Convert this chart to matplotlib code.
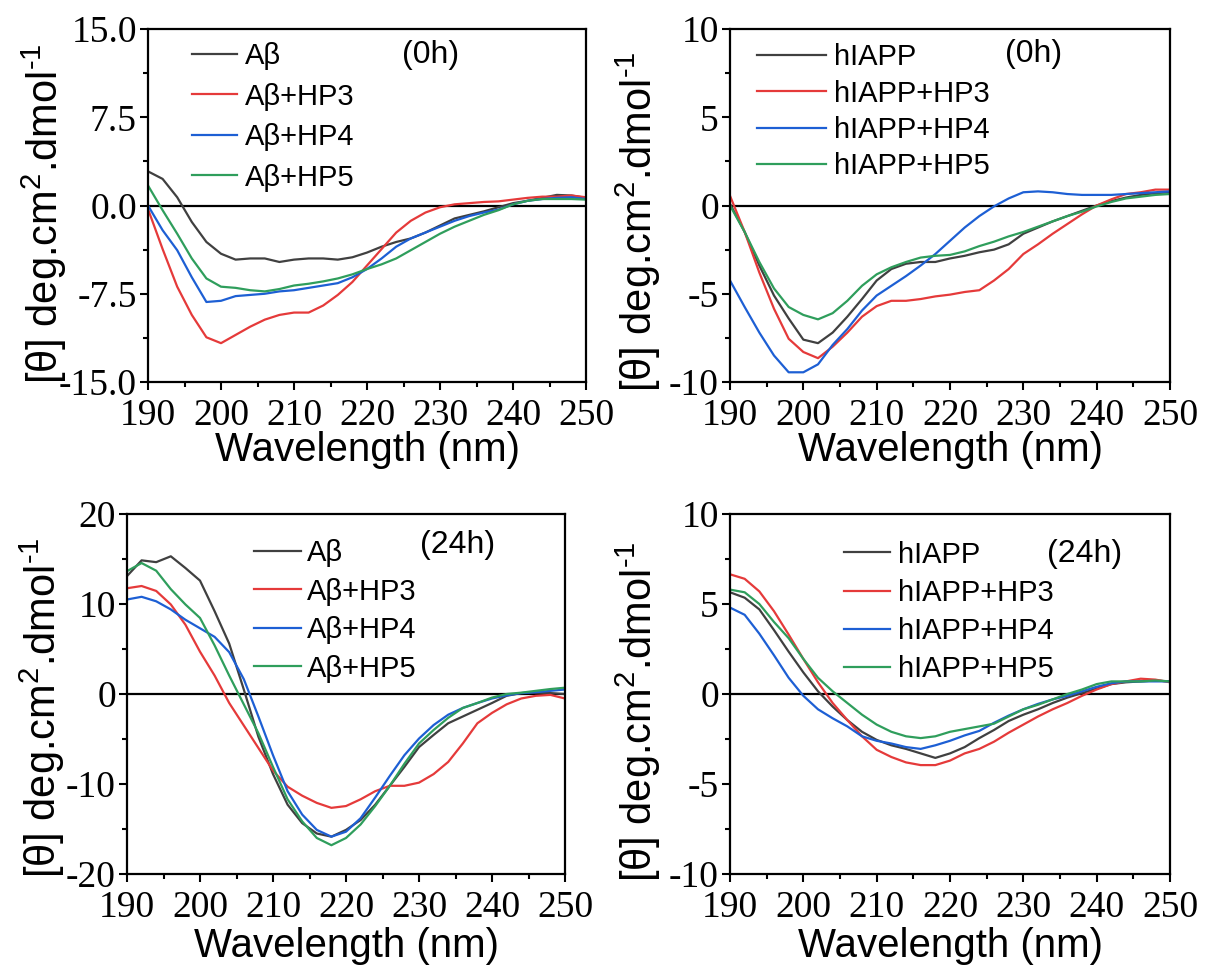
import numpy as np
import matplotlib.pyplot as plt
from matplotlib.ticker import MultipleLocator, FormatStrFormatter

plt.rcParams['font.family'] = 'Liberation Sans'
plt.rcParams['mathtext.fontset'] = 'custom'
plt.rcParams['mathtext.rm'] = 'Liberation Sans'
plt.rcParams['mathtext.it'] = 'Liberation Sans:italic'

# wavelength grid (nm)
wl = list(range(190, 251, 2))

# --- A-beta, 0 h ---
ab0_ab  = [2.9, 2.26, 0.7, -1.4, -3.1, -4.1, -4.6, -4.5, -4.5, -4.8, -4.6, -4.5, -4.5, -4.6, -4.4, -4.0,
           -3.5, -3.1, -2.8, -2.3, -1.7, -1.1, -0.8, -0.5, -0.15, 0.2, 0.4, 0.65, 0.9, 0.85, 0.65]
ab0_hp3 = [-0.3, -3.7, -6.9, -9.3, -11.2, -11.7, -11.0, -10.3, -9.7, -9.3, -9.1, -9.1, -8.5, -7.6, -6.5, -5.1,
           -3.7, -2.3, -1.3, -0.6, -0.15, 0.1, 0.2, 0.3, 0.35, 0.5, 0.65, 0.75, 0.75, 0.85, 0.7]
ab0_hp4 = [0.0, -2.1, -3.8, -6.1, -8.2, -8.1, -7.7, -7.6, -7.5, -7.3, -7.2, -7.0, -6.8, -6.6, -6.1, -5.4,
           -4.5, -3.5, -2.8, -2.3, -1.8, -1.3, -0.9, -0.6, -0.35, 0.1, 0.4, 0.55, 0.65, 0.7, 0.55]
ab0_hp5 = [1.7, -0.4, -2.4, -4.5, -6.2, -6.9, -7.0, -7.2, -7.3, -7.1, -6.8, -6.65, -6.45, -6.2, -5.85, -5.4,
           -5.0, -4.5, -3.8, -3.1, -2.4, -1.8, -1.3, -0.8, -0.4, 0.1, 0.4, 0.55, 0.55, 0.55, 0.5]

# --- hIAPP, 0 h ---
ia0_ia  = [0.1, -1.5, -3.4, -5.1, -6.4, -7.6, -7.8, -7.2, -6.3, -5.3, -4.25, -3.6, -3.3, -3.2, -3.2, -3.0,
           -2.85, -2.65, -2.5, -2.2, -1.6, -1.25, -0.9, -0.6, -0.3, 0.0, 0.25, 0.45, 0.6, 0.7, 0.75]
ia0_hp3 = [0.55, -1.5, -3.8, -5.85, -7.55, -8.3, -8.65, -8.0, -7.2, -6.3, -5.7, -5.4, -5.4, -5.3, -5.15, -5.05,
           -4.9, -4.8, -4.25, -3.6, -2.75, -2.2, -1.6, -1.05, -0.5, 0.0, 0.35, 0.65, 0.75, 0.9, 0.9]
ia0_hp4 = [-4.25, -5.75, -7.2, -8.5, -9.45, -9.45, -9.0, -7.9, -7.0, -5.95, -5.1, -4.55, -4.0, -3.4, -2.75, -2.0,
           -1.25, -0.6, -0.05, 0.4, 0.75, 0.8, 0.75, 0.65, 0.6, 0.6, 0.6, 0.65, 0.7, 0.75, 0.8]
ia0_hp5 = [0.0, -1.5, -3.2, -4.7, -5.75, -6.2, -6.45, -6.1, -5.4, -4.55, -3.9, -3.5, -3.2, -2.95, -2.85, -2.8,
           -2.6, -2.3, -2.05, -1.75, -1.5, -1.2, -0.9, -0.6, -0.35, -0.05, 0.2, 0.4, 0.5, 0.6, 0.65]

# --- A-beta, 24 h ---
ab24_ab  = [13.1, 14.85, 14.65, 15.3, 14.0, 12.6, 9.2, 5.6, 0.5, -4.75, -8.9, -12.3, -14.35, -15.5, -15.85, -15.1,
            -14.0, -12.3, -10.2, -8.1, -5.9, -4.55, -3.25, -2.5, -1.75, -1.0, -0.2, 0.1, 0.15, 0.1, 0.0]
ab24_hp3 = [11.75, 12.0, 11.45, 9.95, 7.7, 4.7, 2.05, -1.0, -3.5, -6.0, -8.5, -10.3, -11.3, -12.1, -12.65, -12.45,
            -11.7, -10.8, -10.2, -10.2, -9.85, -8.9, -7.55, -5.5, -3.25, -2.1, -1.15, -0.5, -0.2, -0.1, -0.5]
ab24_hp4 = [10.5, 10.8, 10.3, 9.4, 8.25, 7.3, 6.35, 4.65, 1.65, -2.5, -6.8, -10.8, -13.4, -15.1, -15.85, -15.3,
            -13.8, -11.5, -9.1, -6.8, -4.95, -3.45, -2.3, -1.55, -1.0, -0.5, -0.15, 0.1, 0.2, 0.35, 0.5]
ab24_hp5 = [13.65, 14.55, 13.7, 11.65, 9.95, 8.45, 5.4, 2.05, -1.15, -4.35, -8.1, -11.7, -14.15, -16.0, -16.8, -16.0,
            -14.5, -12.45, -10.2, -7.75, -5.5, -4.0, -2.65, -1.55, -1.0, -0.4, 0.0, 0.15, 0.35, 0.55, 0.7]

# --- hIAPP, 24 h ---
ia24_ia  = [5.65, 5.35, 4.7, 3.55, 2.35, 1.2, 0.15, -0.7, -1.45, -2.1, -2.55, -2.85, -3.05, -3.3, -3.55, -3.3,
            -2.95, -2.45, -2.0, -1.5, -1.15, -0.85, -0.5, -0.2, 0.05, 0.3, 0.55, 0.65, 0.7, 0.75, 0.7]
ia24_hp3 = [6.65, 6.4, 5.7, 4.6, 3.3, 1.95, 0.65, -0.5, -1.45, -2.35, -3.1, -3.5, -3.8, -3.95, -3.95, -3.7,
            -3.3, -3.05, -2.65, -2.15, -1.7, -1.25, -0.85, -0.5, -0.1, 0.25, 0.55, 0.7, 0.85, 0.8, 0.65]
ia24_hp4 = [4.8, 4.4, 3.35, 2.15, 0.9, -0.1, -0.85, -1.35, -1.8, -2.35, -2.6, -2.75, -2.95, -3.05, -2.85, -2.6,
            -2.3, -2.05, -1.6, -1.2, -0.85, -0.55, -0.3, -0.1, 0.15, 0.4, 0.6, 0.7, 0.7, 0.7, 0.7]
ia24_hp5 = [5.8, 5.65, 5.0, 4.0, 3.1, 1.95, 0.9, 0.15, -0.5, -1.15, -1.7, -2.1, -2.35, -2.45, -2.35, -2.1,
            -1.95, -1.8, -1.65, -1.25, -0.85, -0.6, -0.3, 0.0, 0.25, 0.55, 0.7, 0.7, 0.7, 0.75, 0.7]

ab_labels = ['A\u03b2', 'A\u03b2+HP3', 'A\u03b2+HP4', 'A\u03b2+HP5']
ia_labels = ['hIAPP', 'hIAPP+HP3', 'hIAPP+HP4', 'hIAPP+HP5']
colors = ['#404040', '#e53a3a', '#1d5fd4', '#2f9e5c']

W, H = 1208, 972
fig = plt.figure(figsize=(W / 100, H / 100), dpi=100)

def px_axes(x0, y0, x1, y1):
    return fig.add_axes([x0 / W, 1 - y1 / H, (x1 - x0) / W, (y1 - y0) / H])

panels = [
    dict(box=(148, 29, 586, 382), ys=[ab0_ab, ab0_hp3, ab0_hp4, ab0_hp5], labels=ab_labels,
         ylim=(-15, 15), major=7.5, minor=3.75, fmt='%.1f', tag='(0h)', tagpos=(0.645, 0.925),
         leg=dict(anchor=(0.10, 0.963), hl=1.55, tp=0.28, ls=0.43), ylab=(44, 214), xlab=450),
    dict(box=(730, 29, 1170, 382), ys=[ia0_ia, ia0_hp3, ia0_hp4, ia0_hp5], labels=ia_labels,
         ylim=(-10, 10), major=5, minor=2.5, fmt='%d', tag='(0h)', tagpos=(0.69, 0.93),
         leg=dict(anchor=(0.062, 0.960), hl=2.36, tp=0.28, ls=0.29), ylab=(638, 222), xlab=450),
    dict(box=(127, 514, 565, 874), ys=[ab24_ab, ab24_hp3, ab24_hp4, ab24_hp5], labels=ab_labels,
         ylim=(-20, 20), major=10, minor=5, fmt='%d', tag='(24h)', tagpos=(0.755, 0.913),
         leg=dict(anchor=(0.29, 0.930), hl=1.6, tp=0.2, ls=0.36), ylab=(42, 708), xlab=946),
    dict(box=(730, 514, 1170, 874), ys=[ia24_ia, ia24_hp3, ia24_hp4, ia24_hp5], labels=ia_labels,
         ylim=(-10, 10), major=5, minor=2.5, fmt='%d', tag='(24h)', tagpos=(0.805, 0.89),
         leg=dict(anchor=(0.26, 0.926), hl=1.57, tp=0.28, ls=0.35), ylab=(638, 712), xlab=946),
]

for p in panels:
    ax = px_axes(*p['box'])
    for y, lab, c in zip(p['ys'], p['labels'], colors):
        ax.plot(wl, y, color=c, lw=1.6, label=lab)
    ax.axhline(0, color='black', lw=1.6, zorder=1)

    ax.set_xlim(190, 250)
    ax.set_ylim(*p['ylim'])
    ax.xaxis.set_major_locator(MultipleLocator(10))
    ax.xaxis.set_minor_locator(MultipleLocator(5))
    ax.yaxis.set_major_locator(MultipleLocator(p['major']))
    ax.yaxis.set_minor_locator(MultipleLocator(p['minor']))
    ax.yaxis.set_major_formatter(FormatStrFormatter(p['fmt']))
    ax.tick_params(which='major', direction='out', length=6, width=1.5)
    ax.tick_params(which='minor', direction='out', length=3.5, width=1.5)
    ax.tick_params(axis='x', which='major', pad=6)
    ax.tick_params(axis='y', which='major', pad=2)
    for lbl in ax.get_xticklabels() + ax.get_yticklabels():
        lbl.set_fontfamily('Liberation Serif')
        lbl.set_fontsize(27)
    for s in ax.spines.values():
        s.set_linewidth(1.6)

    lg = p['leg']
    ax.legend(loc='upper left', bbox_to_anchor=lg['anchor'], frameon=False, borderpad=0,
              borderaxespad=0, handlelength=lg['hl'], handletextpad=lg['tp'],
              labelspacing=lg['ls'], fontsize=21)
    ax.text(*p['tagpos'], p['tag'], transform=ax.transAxes, ha='center', va='center', fontsize=23)

    x0, y0, x1, y1 = p['box']
    fig.text(p['ylab'][0] / W, 1 - p['ylab'][1] / H, '[\u03b8] deg.cm$^{2}$.dmol$^{\\text{-}1}$',
             rotation=90, ha='center', va='center', fontsize=30)
    fig.text((x0 + x1) / 2 / W, 1 - p['xlab'] / H, 'Wavelength (nm)',
             ha='center', va='center', fontsize=29)

fig.savefig('out.png', dpi=100)
